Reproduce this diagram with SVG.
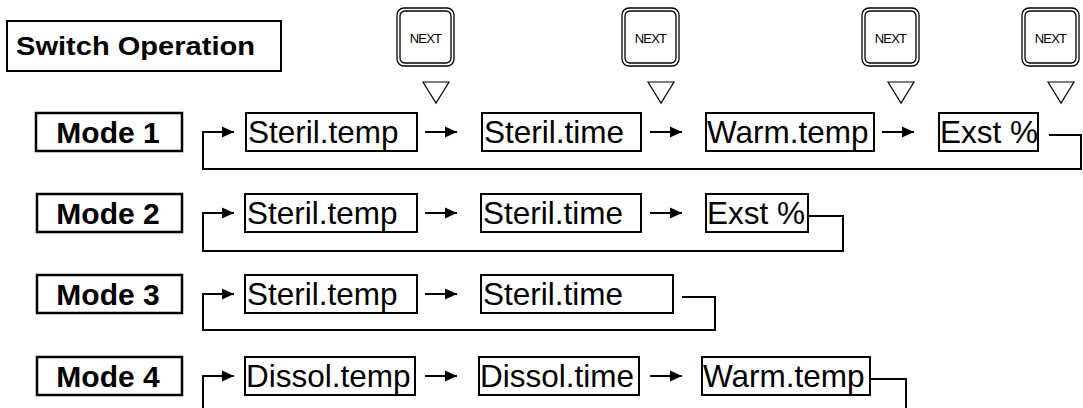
<svg xmlns="http://www.w3.org/2000/svg" width="1083" height="408" viewBox="0 0 1083 408">
<style>
.bg{fill:#fff}
.box{fill:#fff;stroke:#000;stroke-width:2}
.mbox{fill:#fff;stroke:#000;stroke-width:2.5}
.t{font-family:"Liberation Sans",Arial,sans-serif;font-size:31.5px;fill:#000}
.m{font-family:"Liberation Sans",Arial,sans-serif;font-size:30px;font-weight:bold;fill:#000;text-anchor:middle}
.title{font-family:"Liberation Sans",Arial,sans-serif;font-size:26px;font-weight:bold;fill:#000}
.ln{fill:none;stroke:#000;stroke-width:2}
.btn{fill:#fff;stroke:#000;stroke-width:1.3}
.nx{font-family:"Liberation Sans",Arial,sans-serif;font-size:13px;fill:#000;text-anchor:middle;letter-spacing:-0.8px}
.tri{fill:#fff;stroke:#000;stroke-width:1.2}
</style>
<defs>
<marker id="ah" markerWidth="12" markerHeight="12" refX="12" refY="6" orient="auto" markerUnits="userSpaceOnUse">
<path d="M0,0.5 L12,6 L0,11.5 Z" fill="#000"/>
</marker>
<g id="nextBtn">
<rect class="btn" x="0" y="0" width="57" height="58" rx="7"/>
<rect class="btn" x="3" y="3" width="51" height="52" rx="5"/>
<text class="nx" x="28.5" y="35">NEXT</text>
<path class="tri" d="M26,74 L52,74 L39,95 Z"/>
</g>
</defs>
<rect class="bg" width="1083" height="408"/>

<g id="title">
<rect class="box" x="7" y="21" width="274" height="50"/>
<text class="title" x="16" y="55" textLength="239" lengthAdjust="spacingAndGlyphs">Switch Operation</text>
</g>

<g id="buttons">
<use href="#nextBtn" x="397" y="8"/>
<use href="#nextBtn" x="622" y="8"/>
<use href="#nextBtn" x="862" y="8"/>
<use href="#nextBtn" x="1022" y="8"/>
</g>

<g id="mode1">
<rect class="mbox" x="36" y="113" width="146" height="38"/>
<text class="m" x="108" y="143">Mode 1</text>
</g>
<g id="m1-steriltemp"><rect class="box" x="246" y="113" width="171" height="38"/><text class="t" x="248" y="143">Steril.temp</text></g>
<g id="m1-steriltime"><rect class="box" x="482" y="113" width="159" height="38"/><text class="t" x="484" y="143">Steril.time</text></g>
<g id="m1-warmtemp"><rect class="box" x="706" y="113" width="168" height="38"/><text class="t" x="707" y="143">Warm.temp</text></g>
<g id="m1-exst"><rect class="box" x="939" y="113" width="99" height="38"/><text class="t" x="940" y="143">Exst %</text></g>

<g id="mode2">
<rect class="mbox" x="37" y="194" width="145" height="38"/>
<text class="m" x="108" y="224">Mode 2</text>
</g>
<g id="m2-steriltemp"><rect class="box" x="245" y="194" width="172" height="38"/><text class="t" x="247" y="224">Steril.temp</text></g>
<g id="m2-steriltime"><rect class="box" x="481" y="194" width="160" height="38"/><text class="t" x="483" y="224">Steril.time</text></g>
<g id="m2-exst"><rect class="box" x="706" y="194" width="102" height="38"/><text class="t" x="707" y="224">Exst %</text></g>

<g id="mode3">
<rect class="mbox" x="37" y="275" width="145" height="38"/>
<text class="m" x="108" y="305">Mode 3</text>
</g>
<g id="m3-steriltemp"><rect class="box" x="245" y="275" width="172" height="38"/><text class="t" x="247" y="305">Steril.temp</text></g>
<g id="m3-steriltime"><rect class="box" x="481" y="275" width="192" height="38"/><text class="t" x="483" y="305">Steril.time</text></g>

<g id="mode4">
<rect class="mbox" x="37" y="357" width="145" height="38"/>
<text class="m" x="108" y="387">Mode 4</text>
</g>
<g id="m4-dissoltemp"><rect class="box" x="245" y="357" width="170" height="38"/><text class="t" x="246" y="387">Dissol.temp</text></g>
<g id="m4-dissoltime"><rect class="box" x="479" y="357" width="160" height="38"/><text class="t" x="480" y="387">Dissol.time</text></g>
<g id="m4-warmtemp"><rect class="box" x="702" y="357" width="168" height="38"/><text class="t" x="703" y="387">Warm.temp</text></g>

<g id="connectors">
<line class="ln" x1="425" y1="132" x2="457" y2="132" marker-end="url(#ah)"/>
<line class="ln" x1="650" y1="132" x2="682" y2="132" marker-end="url(#ah)"/>
<line class="ln" x1="882" y1="132" x2="914" y2="132" marker-end="url(#ah)"/>
<polyline class="ln" points="1049,135 1081,135 1081,169 203,169 203,132 234,132" marker-end="url(#ah)"/>

<line class="ln" x1="425" y1="213" x2="457" y2="213" marker-end="url(#ah)"/>
<line class="ln" x1="650" y1="213" x2="682" y2="213" marker-end="url(#ah)"/>
<polyline class="ln" points="808,216 843,216 843,251 203,251 203,213 234,213" marker-end="url(#ah)"/>

<line class="ln" x1="425" y1="294" x2="457" y2="294" marker-end="url(#ah)"/>
<polyline class="ln" points="682,297 715,297 715,330 203,330 203,294 234,294" marker-end="url(#ah)"/>

<line class="ln" x1="425" y1="376" x2="457" y2="376" marker-end="url(#ah)"/>
<line class="ln" x1="650" y1="376" x2="682" y2="376" marker-end="url(#ah)"/>
<polyline class="ln" points="870,379 906,379 906,408"/>
<polyline class="ln" points="203,408 203,376 234,376" marker-end="url(#ah)"/>
</g>
</svg>
